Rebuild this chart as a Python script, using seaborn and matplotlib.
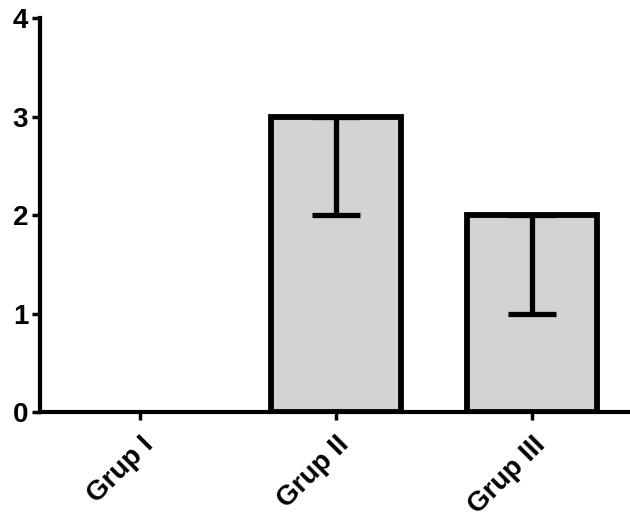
import matplotlib
matplotlib.use("Agg")
import matplotlib.pyplot as plt
import seaborn as sns
import pandas as pd

categories = ["Grup I", "Grup II", "Grup III"]
values = [0, 3, 2]
err_lower = [0, 1, 1]
y_ticks = [0, 1, 2, 3, 4]

sns.set_style("ticks")
plt.rcParams['font.family'] = ['Liberation Sans', 'DejaVu Sans']

fig = plt.figure(figsize=(6.3, 5.22), dpi=100)
ax = fig.add_axes([0.0635, 0.2107, 0.9365, 0.7548])

df = pd.DataFrame({"grup": categories, "val": values, "err": err_lower})
sns.barplot(data=df, x="grup", y="val", ax=ax, color="#d3d3d3", width=0.66,
            edgecolor="black", linewidth=4.2, errorbar=None, saturation=1)
for p, v in zip(ax.patches, values):
    if v == 0:
        p.set_linewidth(0)
        p.set_alpha(0)

df["pos"] = range(len(categories))
eb = df[df["err"] > 0]
ax.errorbar(eb["pos"], eb["val"], yerr=[eb["err"], [0]*len(eb)], fmt="none",
            ecolor="black", elinewidth=3.8, capsize=17, capthick=3.8)

ax.set_xlim(-0.51, 2.5)
ax.set_ylim(0, 4)
ax.set_yticks(y_ticks)
ax.set_yticklabels([str(t) for t in y_ticks], fontsize=20, fontweight="bold", color="black")
ax.set_xlabel("")
ax.set_ylabel("")
ax.set_xticks(list(df["pos"]))
ax.set_xticklabels(categories, rotation=45, ha="right", rotation_mode="anchor",
                   fontsize=20, fontweight="bold", color="black")
for s in ["top", "right"]:
    ax.spines[s].set_visible(False)
for s in ["left", "bottom"]:
    ax.spines[s].set_linewidth(3)
    ax.spines[s].set_color("black")
    ax.spines[s].set_capstyle("projecting")
ax.tick_params(axis="both", width=2.5, length=6, color="black")
ax.tick_params(axis="y", pad=2.5)
ax.tick_params(axis="x", pad=8)

fig.savefig("out.png", dpi=100, facecolor="white")
